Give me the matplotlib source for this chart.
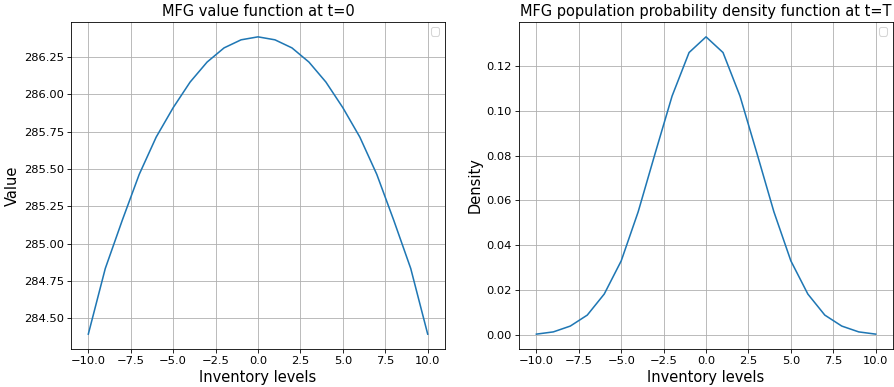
import numpy as np
import matplotlib
matplotlib.use("Agg")
import matplotlib.pyplot as plt

# Inventory grid
inventory = np.arange(-10, 11)

# Value function at t=0
value_t0 = [284.393, 284.833, 285.156, 285.464, 285.714, 285.911, 286.083,
            286.217, 286.312, 286.366, 286.386, 286.366, 286.312, 286.217,
            286.083, 285.911, 285.714, 285.464, 285.156, 284.833, 284.393]

# Population density at t=T
density_T = [0.0003, 0.0013, 0.0039, 0.0088, 0.0182, 0.0330, 0.0549,
             0.0810, 0.1066, 0.1260, 0.1330, 0.1260, 0.1066, 0.0810,
             0.0549, 0.0330, 0.0182, 0.0088, 0.0039, 0.0013, 0.0003]

plt.rcParams["xtick.labelsize"] = 11
plt.rcParams["ytick.labelsize"] = 11

fig = plt.figure(figsize=(894 / 75, 387 / 75), dpi=75)
ax1 = fig.add_axes([0.0798, 0.0982, 0.4176, 0.845])
ax2 = fig.add_axes([0.581, 0.0982, 0.4175, 0.845])

ax1.plot(inventory, value_t0)
ax1.set_title("MFG value function at t=0", fontsize=14)
ax1.set_xlabel("Inventory levels", fontsize=14)
ax1.set_ylabel("Value", fontsize=14)
ax1.grid(True)
ax1.legend(handles=[], loc="upper right")

ax2.plot(inventory, density_T)
ax2.set_title("MFG population probability density function at t=T", fontsize=14)
ax2.set_xlabel("Inventory levels", fontsize=14)
ax2.set_ylabel("Density", fontsize=14)
ax2.grid(True)
ax2.legend(handles=[], loc="upper right")

fig.savefig("out.png", dpi=75)
